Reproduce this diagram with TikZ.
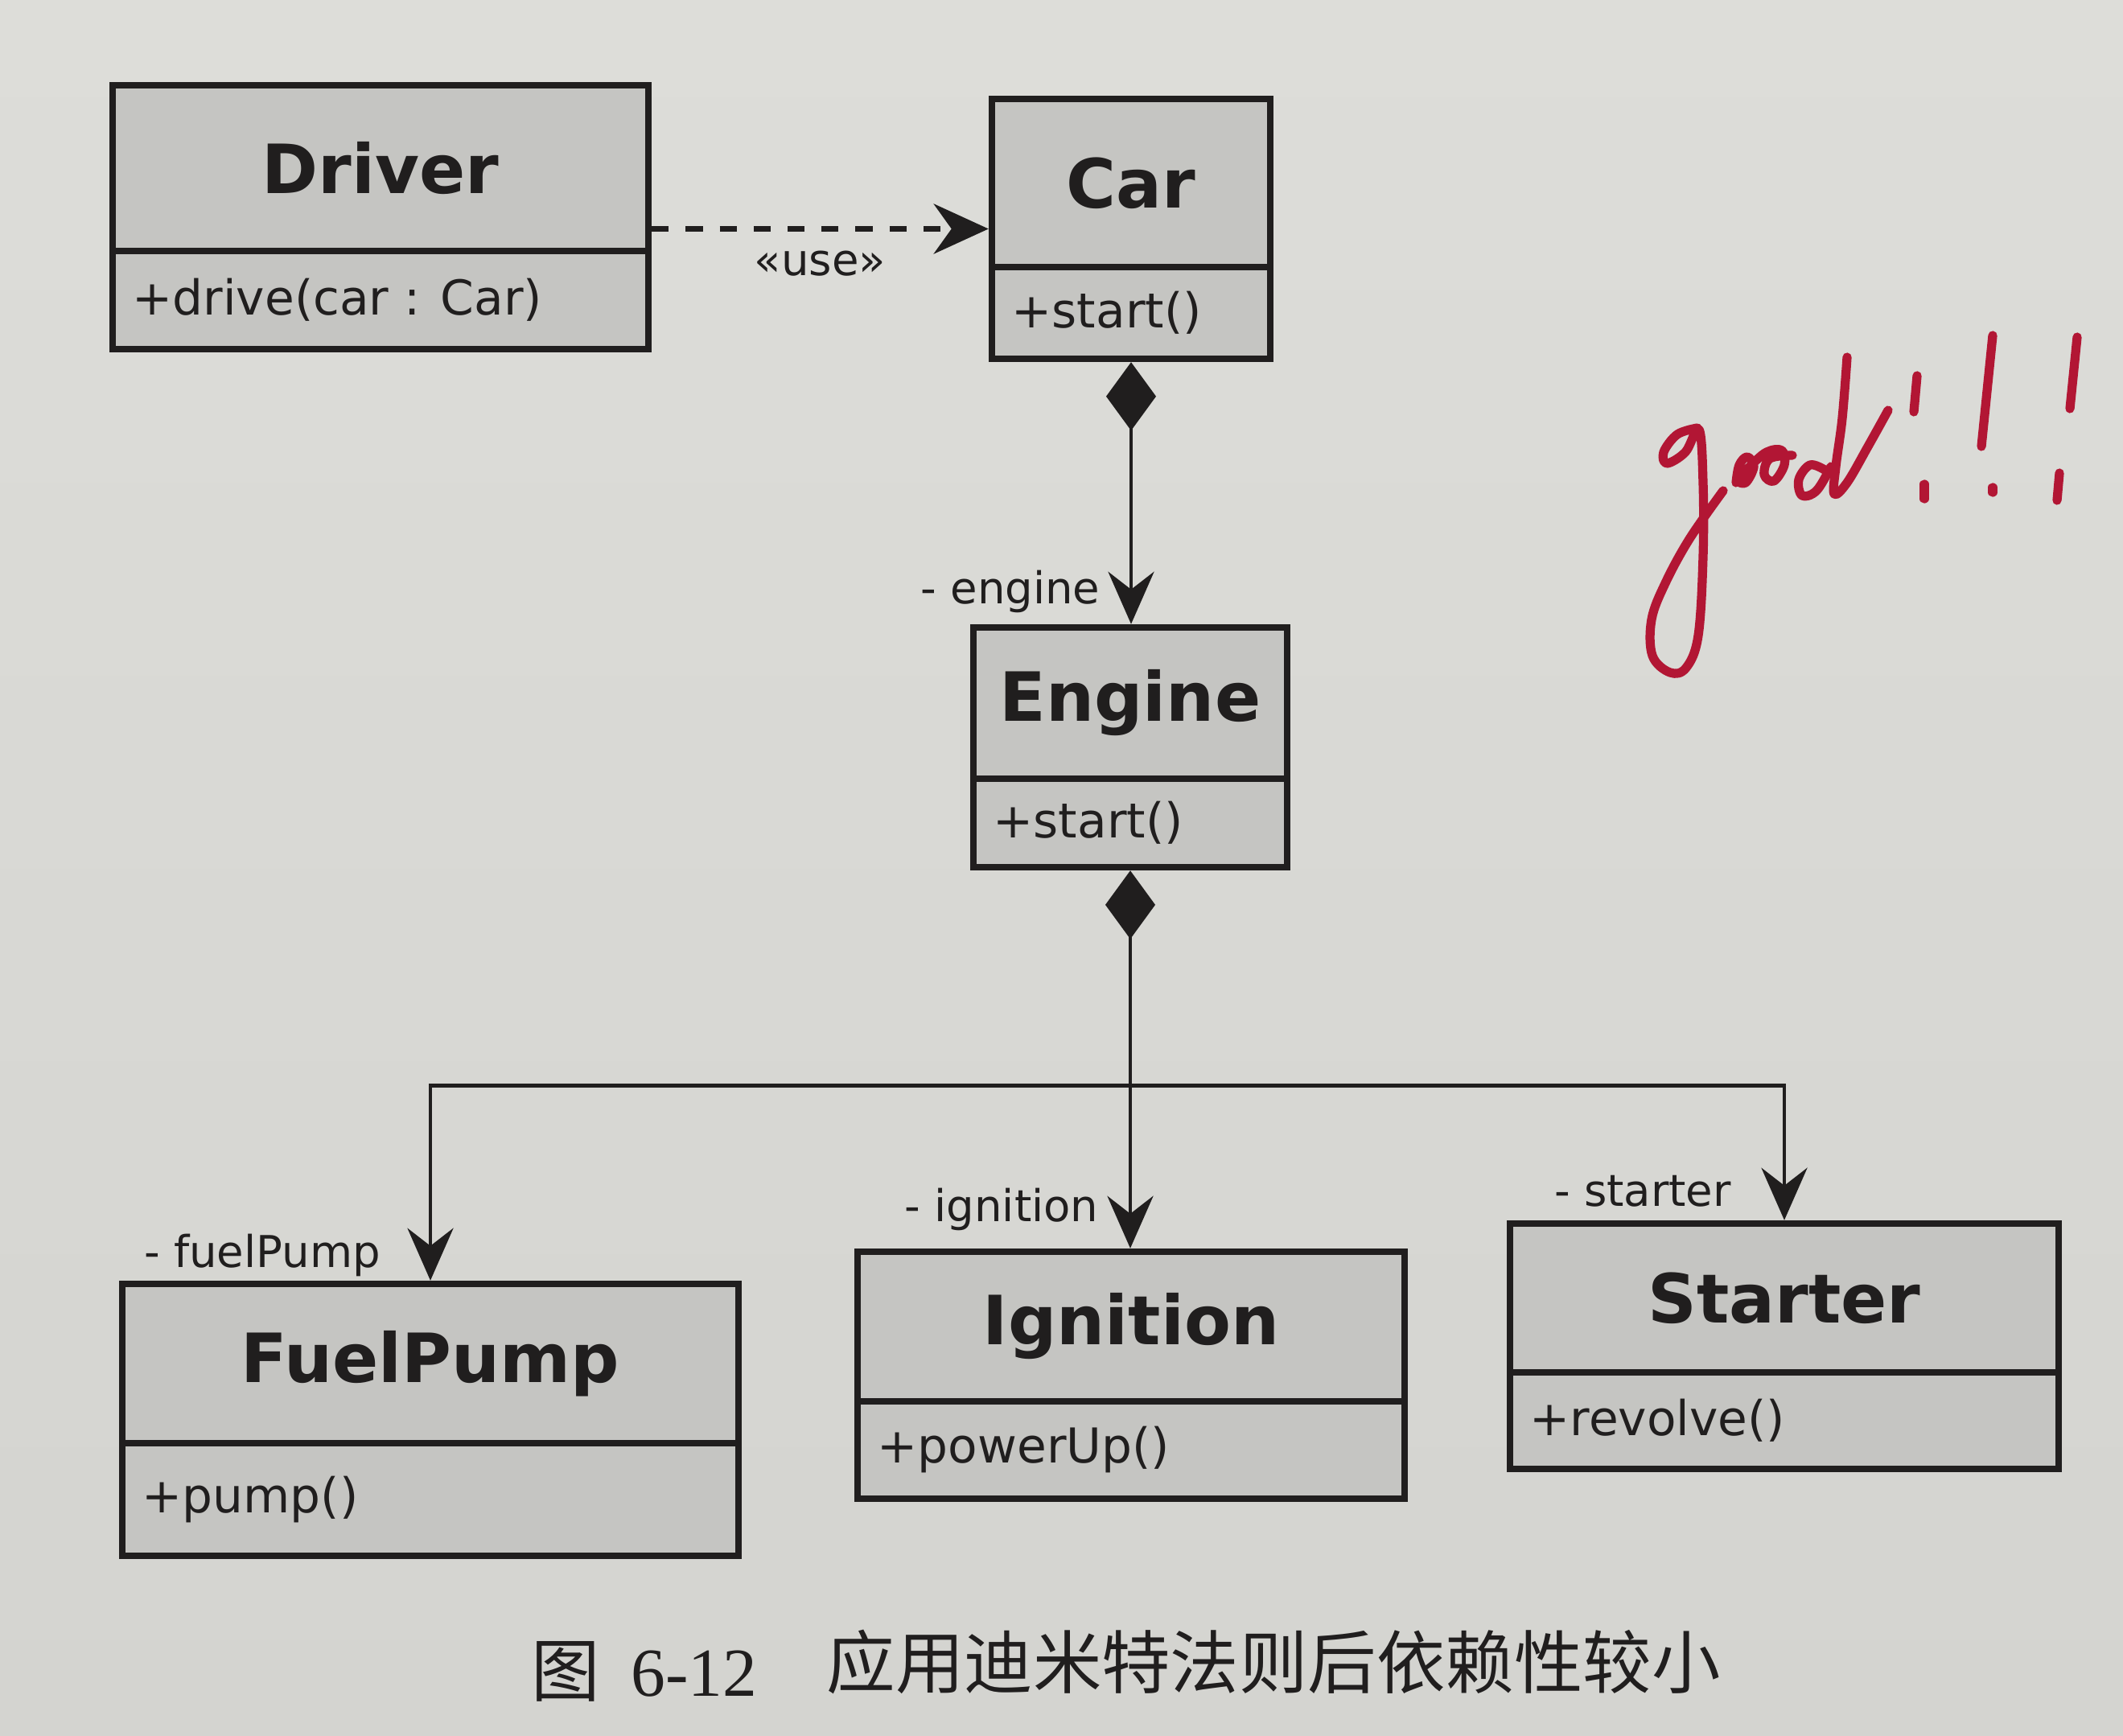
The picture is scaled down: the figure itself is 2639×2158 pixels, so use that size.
\documentclass[tikz,border=0pt]{standalone}
\usepackage{fontspec}
\setmainfont{DejaVu Sans}
\newfontfamily\cjkfont{Noto Sans CJK SC}
\newfontfamily\capnum{Liberation Serif}
\usetikzlibrary{arrows.meta,fit,calc}

\definecolor{paper}{RGB}{221,221,217}
\definecolor{paperlow}{RGB}{212,212,208}
\definecolor{boxfill}{RGB}{197,197,194}
\definecolor{ink}{RGB}{32,30,30}
\definecolor{redink}{RGB}{178,22,52}

\tikzset{
  classbox/.style={draw=ink, line width=2.4pt, fill=boxfill, inner sep=0pt},
  divider/.style={draw=ink, line width=2.4pt},
  classtitle/.style={font=\fontsize{24}{28}\selectfont\bfseries, text=ink, inner sep=0pt},
  classop/.style={font=\fontsize{17}{20}\selectfont, text=ink, inner sep=0pt, anchor=west},
  role/.style={font=\fontsize{15.5}{18}\selectfont, text=ink, inner sep=0pt},
  assoc/.style={draw=ink, line width=1.4pt},
  navi/.style={-{Stealth[length=0.65cm, width=0.57cm, inset=0.22cm]}},
  composnavi/.style={{Diamond[length=0.85cm, width=0.62cm]}-{Stealth[length=0.65cm, width=0.57cm, inset=0.22cm]}},
  usedep/.style={draw=ink, line width=2pt, dash pattern=on 6pt off 6pt,
    -{Stealth[length=0.68cm, width=0.62cm, inset=0.22cm]}},
  redpen/.style={draw=redink, line width=3.2pt, line cap=round, line join=round},
  caption/.style={font=\fontsize{24.3}{28}\selectfont, text=ink, inner sep=0pt, anchor=west}
}

% class box: name, x1, y1, x2, y2, y of divider, title, operation
\newcommand\umlclass[8]{%
  \coordinate (#1-nw) at (#2,#3);
  \coordinate (#1-se) at (#4,#5);
  \node[classbox, fit=(#1-nw)(#1-se)] (#1) {};
  \draw[divider] (#2,#6) -- (#4,#6);
  \node[classtitle] (#1-title) at ({(#2+#4)/2},{(#3+#6)/2}) {#7};
  \node[classop] (#1-op) at ({#2+24},{(#6+#5)/2}) {#8};
}

\begin{document}
\begin{tikzpicture}[x=0.01cm, y=-0.01cm]
  \useasboundingbox (0,0) rectangle (2639,2158);
  \shade[top color=paper, bottom color=paperlow] (0,0) rectangle (2639,2158);

  % classes
  \umlclass{driver}{140}{106}{806}{434}{312}{Driver}{+drive(car : Car)}
  \umlclass{car}{1233}{123}{1579}{446}{332}{Car}{+start()}
  \umlclass{engine}{1210}{780}{1600}{1078}{968}{Engine}{+start()}
  \umlclass{fuelpump}{152}{1596}{918}{1934}{1794}{FuelPump}{+pump()}
  \umlclass{ignition}{1066}{1556}{1746}{1863}{1742}{Ignition}{+powerUp()}
  \umlclass{starter}{1877}{1521}{2559}{1826}{1706}{Starter}{+revolve()}

  % Driver uses Car
  \draw[usedep] (driver.east |- car.west) -- (car.west)
    node[midway, below=0.24cm, font=\fontsize{15.5}{18}\selectfont, text=ink, inner sep=0pt] (uselabel) {«use»};

  % Car owns its Engine
  \draw[assoc, composnavi] (car.south) -- (engine.north -| car.south);
  \node[role] (enginerole) at (1256,735) {- engine};

  % Engine owns its parts
  \coordinate (branch) at ($(engine.south)+(0,267)$);
  \draw[assoc, composnavi] (engine.south) -- (ignition.north -| engine.south);
  \draw[assoc, navi] (branch) -| (fuelpump.north);
  \draw[assoc, navi] (branch) -| (starter.north);
  \node[role] (fuelrole) at (326,1560) {- fuelPump};
  \node[role] (ignrole) at (1245,1503) {- ignition};
  \node[role] (startrole) at (2042,1481) {- starter};

  % caption
  \node[caption] (figno) at (660,2078) {\cjkfont 图\hspace{0.45em}\capnum 6-12};
  \node[caption] (figtitle) at (1027,2066) {\cjkfont 应用迪米特法则后依赖性较小};

  % red handwritten note: g
  \draw[redpen] plot[smooth, tension=0.6] coordinates {
    (2110,532) (2085,540) (2068,562) (2072,576) (2095,562) (2112,534)
    (2117,600) (2117,692) (2111,790) (2096,830) (2076,836) (2054,815)
    (2053,770) (2070,725) (2100,670) (2142,610)};
  % o o
  \draw[redpen] plot[smooth, tension=0.6] coordinates {
    (2158,600) (2162,578) (2172,568) (2180,580) (2170,600) (2160,596)
    (2175,580) (2196,562) (2215,560) (2218,578) (2205,598) (2193,590) (2200,570) (2228,566)};
  % d
  \draw[redpen] plot[smooth, tension=0.6] coordinates {
    (2268,584) (2250,578) (2236,596) (2240,616) (2258,610) (2276,580)};
  \draw[redpen] plot[smooth, tension=0.6] coordinates {
    (2296,444) (2290,520) (2282,580) (2280,614) (2296,600) (2322,555) (2347,510)};
  % !!!
  \draw[redpen] (2383,467) -- (2379,512);
  \draw[redpen] (2392,602) -- (2392,620);
  \draw[redpen] (2477,417) -- (2463,555);
  \draw[redpen] (2477,606) -- (2477,612);
  \draw[redpen] (2582,419) -- (2573,508);
  \draw[redpen] (2560,588) -- (2557,622);
\end{tikzpicture}
\end{document}
